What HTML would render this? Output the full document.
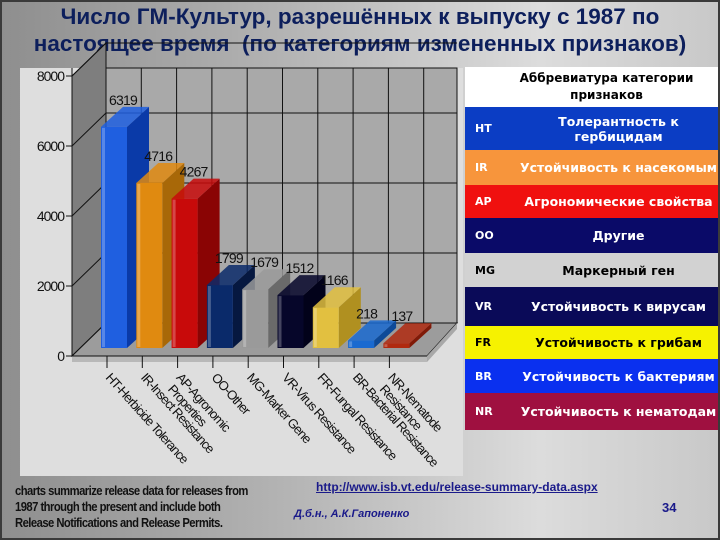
<!DOCTYPE html>
<html><head><meta charset="utf-8">
<style>
html,body{margin:0;padding:0}
body{width:720px;height:540px;overflow:hidden;position:relative;font-family:"Liberation Sans","Noto Sans CJK SC",sans-serif;
background:linear-gradient(90deg,#8e8e8e 0%,#b4b4b4 40%,#dcdcdc 75%,#c8c8c8 100%);}
.frame{position:absolute;left:0;top:0;width:716px;height:536px;border:2px solid #3a3a3a}
.title{position:absolute;left:0;top:3px;width:720px;text-align:center;font-weight:bold;font-size:22.5px;line-height:27px;color:#0d1f5c;white-space:nowrap}
.legend{position:absolute;left:465px;top:67px;width:253px;border-collapse:collapse;font-family:"DejaVu Sans",sans-serif;font-weight:bold}
.legend td{padding:0;font-size:12.5px}
.legend .ab{width:44px;padding-left:10px;font-size:11px}
.legend .tx{text-align:center}
.note{position:absolute;left:15px;top:483px;font-size:12.5px;line-height:16px;font-weight:bold;color:#111;letter-spacing:-0.6px;transform:scaleX(0.9);transform-origin:0 0;white-space:nowrap}
.link{position:absolute;left:316px;top:480px;font-size:12px;font-weight:bold;color:#1a1a8a;text-decoration:underline}
.auth{position:absolute;left:294px;top:508px;font-size:11px;font-weight:bold;font-style:italic;color:#1a1a8a}
.pg{position:absolute;left:662px;top:500px;font-size:13px;font-weight:bold;color:#1a1a8a}
</style></head><body>
<div class="frame"></div>
<div class="title">Число ГМ-Культур, разрешённых к выпуску с 1987 по<br>настоящее время &nbsp;(по категориям измененных признаков)</div>
<svg id="chart" style="position:absolute;left:0;top:0" width="720" height="540"></svg>
<table class="legend">
<tr style="height:40px;background:#fff;color:#000"><td colspan="2" class="tx" style="font-size:12px;line-height:17px;padding-left:30px">Аббревиатура категории<br>признаков</td></tr>
<tr style="height:43px;background:#0b3dc4;color:#fff"><td class="ab">HT</td><td class="tx">Толерантность к<br>гербицидам</td></tr>
<tr style="height:35px;background:#f7953c;color:#fff"><td class="ab">IR</td><td class="tx">Устойчивость к насекомым</td></tr>
<tr style="height:33px;background:#f0100f;color:#fff"><td class="ab">AP</td><td class="tx">Агрономические свойства</td></tr>
<tr style="height:35px;background:#0a0a68;color:#fff"><td class="ab">OO</td><td class="tx">Другие</td></tr>
<tr style="height:34px;background:#d2d2d2;color:#000"><td class="ab">MG</td><td class="tx">Маркерный ген</td></tr>
<tr style="height:39px;background:#0a0a58;color:#fff"><td class="ab">VR</td><td class="tx">Устойчивость к вирусам</td></tr>
<tr style="height:33px;background:#f6f200;color:#000"><td class="ab">FR</td><td class="tx">Устойчивость к грибам</td></tr>
<tr style="height:34px;background:#0a30ef;color:#fff"><td class="ab">BR</td><td class="tx">Устойчивость к бактериям</td></tr>
<tr style="height:37px;background:#9f1040;color:#fff"><td class="ab">NR</td><td class="tx">Устойчивость к нематодам</td></tr>
</table>
<div class="note">charts summarize release data for releases from<br>1987 through the present and include both<br>Release Notifications and Release Permits.</div>
<div class="link">http://www.isb.vt.edu/release-summary-data.aspx</div>
<div class="auth">Д.б.н., А.К.Гапоненко</div>
<div class="pg">34</div>
<script>
const categories=["HT-Herbicide Tolerance","IR-Insect Resistance","AP-Agronomic|Properties","OO-Other","MG-Marker Gene","VR-Virus Resistance","FR-Fungal Resistance","BR-Bacterial Resistance","NR-Nematode|Resistance"];
const values=[6319,4716,4267,1799,1679,1512,1166,218,137];
const yTicks=[0,2000,4000,6000,8000];
const frontColors=["#1f5fe0","#e08a10","#c80a0a","#0a2a6a","#9a9a9a","#06062a","#e2c040","#1a6ad0","#b02a10"];
const sideColors=["#0a3aa8","#a86808","#8a0404","#061840","#6a6a6a","#02021a","#b09020","#0e4a98","#801a08"];
const NS="http://www.w3.org/2000/svg";
const svg=document.getElementById('chart');
function mk(t,a,p){const e=document.createElementNS(NS,t);for(const k in a)e.setAttribute(k,a[k]);(p||svg).appendChild(e);return e;}
const X0=72,Y0=356,DX=34,DY=-33,SCALE=280/8000,STEP=35.3,RIGHT=427;
function y(v){return Y0-v*SCALE;}
function xc(i){return 107+i*STEP;}
const panel=mk('rect',{x:20,y:68,width:443,height:408,fill:'#dedede'});

mk('rect',{x:X0+DX,y:68,width:RIGHT+DX-X0-DX-4,height:y(0)+DY-68,fill:'#a9a9a9',stroke:'#111','stroke-width':1});
mk('polygon',{points:`${X0},${y(8000)} ${X0+DX},${y(8000)+DY} ${X0+DX},${y(0)+DY} ${X0},${y(0)}`,fill:'#7e7e7e',stroke:'#111'});
yTicks.forEach(t=>{
  const l=mk('line',{x1:X0+DX,y1:y(t)+DY,x2:RIGHT+DX-4,y2:y(t)+DY,stroke:'#111'});
  
  mk('line',{x1:X0,y1:y(t),x2:X0+DX,y2:y(t)+DY,stroke:'#111'});
  mk('line',{x1:X0-6,y1:y(t),x2:X0,y2:y(t),stroke:'#111'});
  const tx=mk('text',{x:X0-8,y:y(t)+5,'text-anchor':'end','font-size':14,fill:'#111','letter-spacing':'-1'});
  tx.textContent=t;
});
for(let i=0;i<10;i++){mk('line',{x1:106+i*STEP,y1:68,x2:106+i*STEP,y2:y(0)+DY,stroke:'#111'});}
mk('polygon',{points:`${X0},${Y0} ${X0+DX},${Y0+DY} ${RIGHT+DX-4},${Y0+DY} ${RIGHT},${Y0}`,fill:'#9c9c9c',stroke:'#111'});
mk('polygon',{points:`${X0},${Y0} ${RIGHT},${Y0} ${RIGHT},${Y0+6} ${X0},${Y0+6}`,fill:'#b8b8b8'});
mk('polygon',{points:`${RIGHT},${Y0} ${RIGHT+DX-4},${Y0+DY} ${RIGHT+DX-4},${Y0+DY+6} ${RIGHT},${Y0+6}`,fill:'#a8a8a8'});
mk('line',{x1:X0,y1:68,x2:X0,y2:Y0,stroke:'#111'});
mk('line',{x1:X0,y1:Y0,x2:RIGHT,y2:Y0,stroke:'#111'});
const BW=26,BDX=22,BDY=-20,BASE=-8;
values.forEach((v,i)=>{
  const l=xc(i)-6,b=y(0)+BASE,t=b-v*SCALE;
  const g=mk('g',{});
  
  
  mk('polygon',{points:`${l+BW},${b} ${l+BW+BDX},${b+BDY} ${l+BW+BDX},${t+BDY} ${l+BW},${t}`,fill:sideColors[i]},g);
  mk('polygon',{points:`${l},${t} ${l+BDX},${t+BDY} ${l+BW+BDX},${t+BDY} ${l+BW},${t}`,fill:frontColors[i],'fill-opacity':0.85},g);
  mk('rect',{x:l,y:t,width:BW,height:v*SCALE,fill:frontColors[i]},g);
  mk('rect',{x:l+1,y:t+1,width:3,height:Math.max(0,v*SCALE-2),fill:'#fff','fill-opacity':0.25},g);
  const lb=mk('text',{x:l+8,y:t+BDY-2,'font-size':14,fill:'#111','letter-spacing':'-0.8'});
  lb.textContent=v;
  mk('line',{x1:xc(i),y1:Y0,x2:xc(i),y2:Y0+12,stroke:'#111'});
  const px=xc(i)-2,py=Y0+22;
  const ct=mk('text',{x:px,y:py,'font-size':13,fill:'#111','letter-spacing':'-0.9',transform:`rotate(48 ${px} ${py})`});
  
  const parts=categories[i].split('|');
  parts.forEach((p,k)=>{const ts=mk('tspan',{x:px+(k?3:0),dy:k?14:0},ct);ts.textContent=p;});
});
</script>
</body></html>
